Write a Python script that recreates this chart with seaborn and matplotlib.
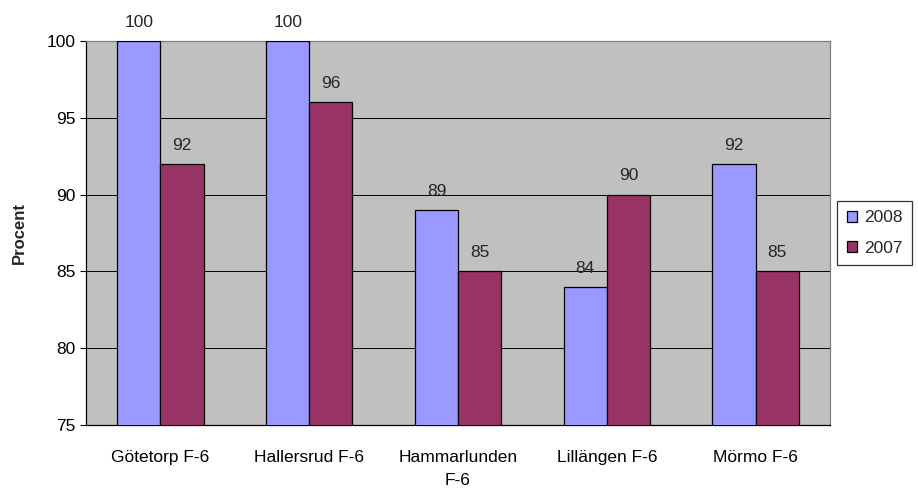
import pandas as pd
import matplotlib
matplotlib.use('Agg')
import matplotlib.pyplot as plt
import seaborn as sns

schools = ['Götetorp F-6', 'Hallersrud F-6', 'Hammarlunden\nF-6', 'Lillängen F-6', 'Mörmo F-6']
years = ['2008', '2007']
values_2008 = [100, 100, 89, 84, 92]
values_2007 = [92, 96, 85, 90, 85]
colors = ['#9999FF', '#993366']

df = pd.DataFrame({
    'school': schools * 2,
    'year': [years[0]] * len(schools) + [years[1]] * len(schools),
    'value': values_2008 + values_2007,
})

sns.set_style('white')
plt.rcParams['font.family'] = ['Liberation Sans', 'DejaVu Sans']

fig = plt.figure(figsize=(9.18, 4.91), dpi=100)
ax = fig.add_axes([0.0937, 0.1344, 0.8105, 0.7821])
ax.set_facecolor('#C0C0C0')

sns.barplot(data=df, x='school', y='value', hue='year', palette=colors,
            saturation=1, width=0.58, edgecolor='black', linewidth=0.9,
            ax=ax, zorder=3)

ax.set_ylim(75, 100)
ax.set_yticks([75, 80, 85, 90, 95, 100])
ax.set_xlim(-0.5, len(schools) - 0.5)
ax.grid(axis='y', color='#000000', linewidth=0.7, zorder=1)
ax.set_axisbelow(True)

for cont in ax.containers:
    labels = ax.bar_label(cont, fmt='%d', padding=8, fontsize=12.5)
    for t in labels:
        t.set_clip_on(False)

ax.set_xlabel('')
ax.set_ylabel('Procent', fontsize=12, fontweight='bold', labelpad=14)
ax.tick_params(axis='both', labelsize=12.5, length=4, direction='out',
               left=True, bottom=False, colors='black')
ax.tick_params(axis='x', pad=14)
for lbl in ax.get_xticklabels():
    lbl.set_linespacing(1.7)

for side in ['left', 'bottom']:
    ax.spines[side].set_color('black')
    ax.spines[side].set_linewidth(0.9)
for side in ['top', 'right']:
    ax.spines[side].set_color('#808080')
    ax.spines[side].set_linewidth(0.9)

ax.legend(loc='center left', bbox_to_anchor=(1.01, 0.5), frameon=True,
          fancybox=False, edgecolor='black', fontsize=12.5,
          handlelength=0.6, handleheight=0.6, handletextpad=0.4,
          borderpad=0.55, labelspacing=0.9, borderaxespad=0)
ax.get_legend().get_frame().set_linewidth(0.9)

fig.savefig('out.png', dpi=100)
